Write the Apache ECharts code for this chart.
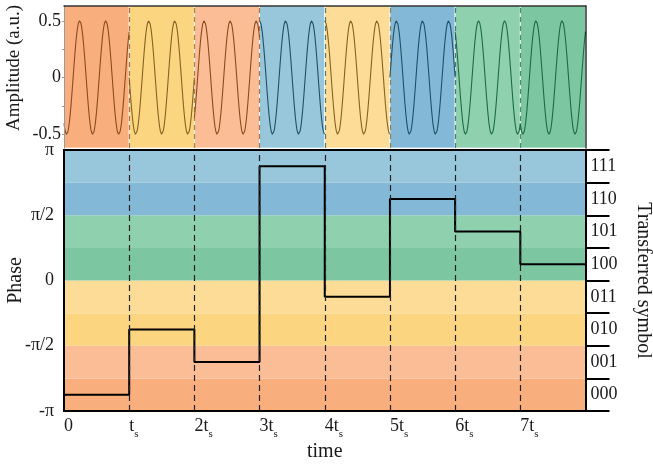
<!DOCTYPE html>
<html>
<head>
<meta charset="utf-8">
<script src="https://cdn.jsdelivr.net/npm/echarts@6/dist/echarts.min.js"></script>
<style>
  html, body { margin: 0; padding: 0; background: #fff; }
  #chart { width: 653px; height: 468px; }
</style>
</head>
<body>
<div id="chart"></div>
<script>
const PI = Math.PI;
const FONT = 'Liberation Serif';

// symbol transferred in each time slot
const slotSymbols = ['000', '010', '001', '111', '011', '110', '101', '100'];
// phase level held in each slot (units of pi)
const slotPhases = [-7 / 8, -3 / 8, -5 / 8, 7 / 8, -1 / 8, 5 / 8, 3 / 8, 1 / 8];
// carrier phase at the start of each slot (units of pi)
const slotWaveStart = [0.8, 0.5, -0.75, 0, 0, -0.5, 0.2, 0.8];
const cyclesPerSlot = 2.5;
const amplitude = 0.5;

// phase bands, bottom -> top
const bandSymbols = ['000', '001', '010', '011', '100', '101', '110', '111'];
const bandColors = ['#f9ae7d', '#fbbd95', '#fbd580', '#fcdc97', '#7cc7a1', '#8fd1af', '#83b9d6', '#98c6da'];
const waveColors = ['#8c4b1f', '#8c4b1f', '#86631f', '#86631f', '#1f6a45', '#1f6a45', '#1f5068', '#1f5068'];

const timeTicks = [0, 1, 2, 3, 4, 5, 6, 7];
const timeLabels = ['0', 't', '2t', '3t', '4t', '5t', '6t', '7t'];
const phaseTicks = [-1, -0.5, 0, 0.5, 1];
const phaseLabels = ['-π', '-π/2', '0', 'π/2', 'π'];
const ampTicks = [-0.5, 0, 0.5];
const ampMinorTicks = [-0.5, -0.25, 0, 0.25, 0.5];

const chart = echarts.init(document.getElementById('chart'));

const bandIndex = sym => bandSymbols.indexOf(sym);
const bandEdges = bandSymbols.map((s, i) => (-1 + i / 4) * PI).concat([PI]);
const bandCenters = bandSymbols.map((s, i) => (-1 + (i + 0.5) / 4) * PI);

const nearest = (list, v) => {
  let best = 0;
  list.forEach((x, i) => { if (Math.abs(x - v) < Math.abs(list[best] - v)) best = i; });
  return best;
};

// carrier waveform, one series per slot
const waveSeries = slotSymbols.map((sym, k) => {
  const pts = [];
  for (let i = 0; i <= 240; i++) {
    const t = i / 240;
    pts.push([k + t, amplitude * Math.cos(2 * PI * cyclesPerSlot * t + slotWaveStart[k] * PI)]);
  }
  return {
    type: 'line',
    xAxisIndex: 0,
    yAxisIndex: 0,
    data: pts,
    symbol: 'none',
    silent: true,
    z: 3,
    lineStyle: { color: waveColors[bandIndex(sym)], width: 1.1 }
  };
});

// phase step line
const stepData = slotPhases.map((p, k) => [k, p * PI]);
stepData.push([slotPhases.length, slotPhases[slotPhases.length - 1] * PI]);

const axisText = { fontFamily: FONT, fontSize: 18, color: '#1a1a1a' };
const nameText = { fontFamily: FONT, fontSize: 20, color: '#1a1a1a' };

const option = {
  animation: false,
  grid: [
    { left: 64, right: 67.5, top: 6, height: 142, containLabel: false, outerBoundsMode: 'none' },
    { left: 64, right: 67.5, top: 150, height: 261, containLabel: false, outerBoundsMode: 'none' }
  ],
  xAxis: [
    {
      gridIndex: 0, type: 'value', min: 0, max: 8, position: 'top', z: 5,
      axisLine: { show: true, onZero: false, lineStyle: { color: 'rgba(0,0,0,0.8)', width: 1.5 } },
      axisTick: { show: false }, axisLabel: { show: false }, splitLine: { show: false }
    },
    {
      gridIndex: 1, type: 'value', min: 0, max: 8, position: 'bottom', z: 5,
      name: 'time', nameLocation: 'middle', nameGap: 31, nameMoveOverlap: false, nameTextStyle: nameText,
      axisLine: { show: true, onZero: false, lineStyle: { color: '#000', width: 2 } },
      axisTick: { show: false },
      splitLine: { show: false },
      axisLabel: {
        customValues: timeTicks,
        align: 'left',
        margin: 6,
        formatter: v => {
          const i = nearest(timeTicks, v);
          return i === 0 ? '{m|0}' : '{m|' + timeLabels[i] + '}{s|s}';
        },
        rich: {
          m: { fontFamily: FONT, fontSize: 18, lineHeight: 20, color: '#1a1a1a', verticalAlign: 'top' },
          s: { fontFamily: FONT, fontSize: 11, lineHeight: 23, color: '#1a1a1a', verticalAlign: 'bottom' }
        }
      }
    },
    {
      gridIndex: 1, type: 'value', min: 0, max: 8, position: 'top', z: 5,
      axisLine: { show: true, onZero: false, lineStyle: { color: '#000', width: 2 } },
      axisTick: { show: false }, axisLabel: { show: false }, splitLine: { show: false }
    }
  ],
  yAxis: [
    {
      gridIndex: 0, type: 'value', min: -0.62, max: 0.63, position: 'left', z: 5,
      name: 'Amplitude (a.u.)', nameLocation: 'middle', nameGap: 40, nameMoveOverlap: false,
      nameTextStyle: { ...nameText, fontSize: 19, padding: [0, 0, 0, 18] },
      axisLine: { show: true, onZero: false, lineStyle: { color: '#999', width: 1 } },
      axisTick: { show: true, customValues: ampMinorTicks, length: 2, lineStyle: { color: '#999' } },
      axisLabel: {
        customValues: ampTicks, margin: 3, ...axisText,
        formatter: v => ['-0.5', '0', '0.5'][nearest(ampTicks, v)]
      },
      splitLine: { show: false }
    },
    {
      gridIndex: 0, type: 'value', min: -0.62, max: 0.63, position: 'right', z: 5,
      axisLine: { show: true, onZero: false, lineStyle: { color: 'rgba(0,0,0,0.8)', width: 1.5 } },
      axisTick: { show: false }, axisLabel: { show: false }, splitLine: { show: false }
    },
    {
      gridIndex: 1, type: 'value', min: -PI, max: PI, position: 'left', z: 5,
      name: 'Phase', nameLocation: 'middle', nameGap: 38, nameMoveOverlap: false, nameTextStyle: nameText,
      axisLine: { show: true, onZero: false, lineStyle: { color: '#000', width: 2 } },
      axisTick: { show: false },
      axisLabel: {
        customValues: phaseTicks.map(p => p * PI), margin: 10, ...axisText,
        formatter: v => phaseLabels[nearest(phaseTicks, v / PI)]
      },
      splitLine: { show: false }
    },
    {
      gridIndex: 1, type: 'value', min: -PI, max: PI, position: 'right', z: 5,
      name: 'Transferred symbol', nameLocation: 'middle', nameGap: 48, nameRotate: -90,
      nameMoveOverlap: false, nameTextStyle: nameText,
      axisLine: { show: true, onZero: false, lineStyle: { color: '#000', width: 2 } },
      axisTick: { show: true, inside: false, customValues: bandEdges, length: 24, lineStyle: { color: '#000', width: 2 } },
      axisLabel: {
        customValues: bandCenters, margin: 5, ...axisText,
        formatter: v => bandSymbols[nearest(bandCenters, v)]
      },
      splitLine: { show: false }
    }
  ],
  series: [
    // slot backgrounds and boundaries of the waveform panel
    {
      type: 'line', xAxisIndex: 0, yAxisIndex: 0, data: [], z: 1, silent: true,
      markArea: {
        silent: true,
        itemStyle: { borderColor: 'rgba(255,255,255,0.75)', borderWidth: 1 },
        data: slotSymbols.map((sym, k) => [
          { xAxis: k, itemStyle: { color: bandColors[bandIndex(sym)] } },
          { xAxis: k + 1 }
        ])
      },
      markLine: {
        silent: true, symbol: 'none', label: { show: false },
        lineStyle: { type: [5, 4], width: 1.2, color: 'rgba(70,50,30,0.7)' },
        data: timeTicks.slice(1).map(v => ({
          xAxis: v,
          lineStyle: { color: waveColors[bandIndex(slotSymbols[v - 1])], opacity: 0.75 }
        }))
      }
    },
    ...waveSeries,
    // phase bands and slot boundaries
    {
      type: 'line', xAxisIndex: 1, yAxisIndex: 2, data: [], z: 1, silent: true,
      markArea: {
        silent: true,
        data: bandSymbols.map((sym, i) => [
          { yAxis: bandEdges[i], itemStyle: { color: bandColors[i] } },
          { yAxis: bandEdges[i + 1] }
        ])
      },
      markLine: {
        silent: true, symbol: 'none', label: { show: false },
        lineStyle: { type: [6, 4], width: 1.2, color: '#222' },
        data: timeTicks.slice(1).map(v => ({ xAxis: v }))
      }
    },
    {
      type: 'line', xAxisIndex: 1, yAxisIndex: 2, data: stepData, step: 'end', z: 4,
      symbol: 'none', silent: true,
      lineStyle: { color: '#000', width: 2 }
    }
  ]
};

chart.setOption(option);
window.addEventListener('resize', () => chart.resize());
</script>
</body>
</html>
